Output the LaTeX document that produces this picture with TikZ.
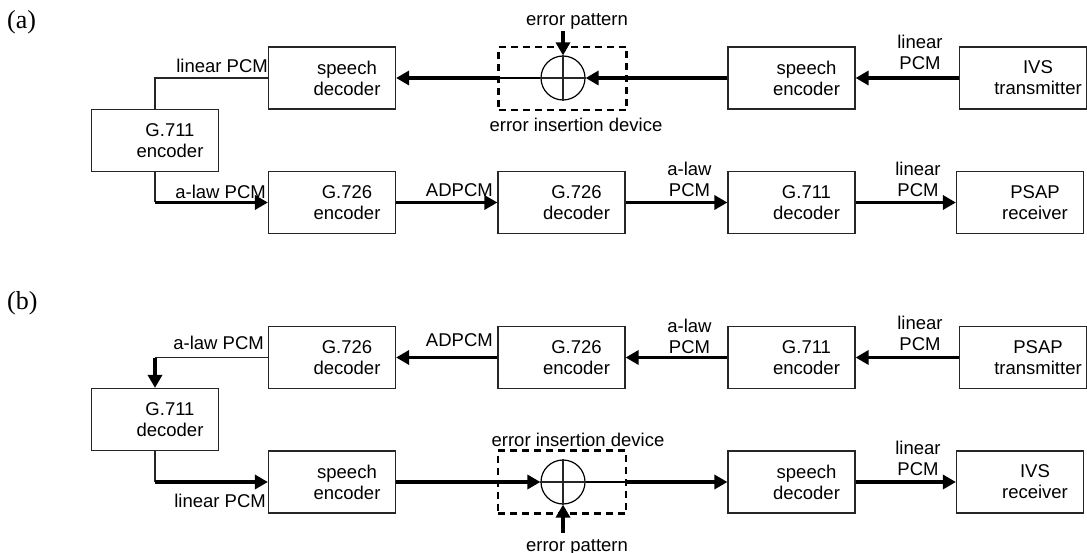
\documentclass[tikz,border=0pt]{standalone}
\usepackage{fontspec}
\setmainfont{Liberation Sans}
\newfontfamily\capfont{Liberation Serif}
\usepackage{tikz}
\usetikzlibrary{arrows.meta, positioning, calc}

\tikzset{
  block/.style={draw=black!85, line width=1.2pt, minimum width=127pt, minimum height=62pt, inner sep=0pt},
  intext/.style={xshift=15pt, align=center, inner sep=0pt, font=\fontsize{18.5}{21}\selectfont},
  tag/.style={inner sep=1pt, align=center, font=\fontsize{18.5}{21}\selectfont},
  panel/.style={inner sep=0pt, font=\capfont\fontsize{26}{28}\selectfont},
  wire/.style={line width=1.2pt, draw=black!85},
  flow/.style={line width=3.5pt, -{Triangle[length=13pt, width=14pt]}},
  inflow/.style={line width=2.5pt},
  errbox/.style={draw, line width=2.5pt, dash pattern=on 7pt off 5pt, minimum width=128pt, minimum height=63pt, inner sep=0pt},
  adder/.style={draw, circle, line width=1.2pt, minimum size=44pt, inner sep=0pt}
}

\begin{document}
\begin{tikzpicture}[x=1pt, y=-1pt]
    \useasboundingbox (0,0) rectangle (1087,553);

    % (a) IVS to PSAP
    \node[panel, anchor=base west] (capA) at (7,29) {(a)};
    \node[block, label={[intext]center:{speech\\decoder}}] (sdecA) at (332,78) {};
    \node[errbox] (errA) at (562.5,78.5) {};
    \node[adder] (circA) at (563,78) {};
    \node[block, label={[intext]center:{speech\\encoder}}] (sencA) at (791.5,78) {};
    \node[block, label={[intext]center:{IVS\\transmitter}}] (ivsTx) at (1023,78) {};
    \node[block, label={[intext]center:{G.711\\encoder}}] (g711encA) at (155,140.5) {};
    \node[block, label={[intext]center:{G.726\\encoder}}] (g726encA) at (332,202.5) {};
    \node[block, label={[intext]center:{G.726\\decoder}}] (g726decA) at (561.5,202.5) {};
    \node[block, label={[intext]center:{G.711\\decoder}}] (g711decA) at (791.5,202.5) {};
    \node[block, label={[intext]center:{PSAP\\receiver}}] (psapRx) at (1020,202.5) {};

    \draw[wire] (circA.north) -- (circA.south) (circA.west) -- (circA.east);
    \draw[flow] (ivsTx) -- (sencA);
    \draw[flow] (sencA) -- (circA);
    \draw[inflow] (circA.west) -- (errA.west |- circA.west);
    \draw[flow] (errA.west |- circA.west) -- (sdecA);
    \draw[wire] (sdecA.west) -| (g711encA.north);
    \draw[wire] (g711encA.south) -- (g711encA.south |- g726encA.west);
    \draw[flow] (g711encA.south |- g726encA.west) -- (g726encA.west);
    \draw[flow] (g726encA) -- (g726decA);
    \draw[flow] (g726decA) -- (g711decA);
    \draw[flow] (g711decA) -- (psapRx);
    \coordinate (epA) at (563,31);
    \draw[flow] (epA) -- (circA.north);

    \node[tag, anchor=base east] (lbA1) at (269,73) {linear PCM};
    \node[tag, anchor=base east] (lbA2) at (267,199) {a-law PCM};
    \node[tag, anchor=base east] (lbA3) at (494,197) {ADPCM};
    \node[tag, anchor=south] (lbA4) at (689.5,198) {a-law\\PCM};
    \node[tag, anchor=south] (lbA5) at (918,198) {linear\\PCM};
    \node[tag, anchor=south] (lbA6) at (920,71) {linear\\PCM};
    \node[tag, anchor=base] (errpatA) at (577,26) {error pattern};
    \node[tag, anchor=base] (errdevA) at (576,132) {error insertion device};

    % (b) PSAP to IVS
    \node[panel, anchor=base west] (capB) at (7,309) {(b)};
    \node[block, label={[intext]center:{G.726\\decoder}}] (g726decB) at (332,357.5) {};
    \node[block, label={[intext]center:{G.726\\encoder}}] (g726encB) at (561.5,357.5) {};
    \node[block, label={[intext]center:{G.711\\encoder}}] (g711encB) at (791.5,357.5) {};
    \node[block, label={[intext]center:{PSAP\\transmitter}}] (psapTx) at (1023,357.5) {};
    \node[block, label={[intext]center:{G.711\\decoder}}] (g711decB) at (155,419.5) {};
    \node[block, label={[intext]center:{speech\\encoder}}] (sencB) at (332,482) {};
    \node[errbox] (errB) at (562,482) {};
    \node[adder] (circB) at (563,482) {};
    \node[block, label={[intext]center:{speech\\decoder}}] (sdecB) at (791.5,482) {};
    \node[block, label={[intext]center:{IVS\\receiver}}] (ivsRx) at (1020,482) {};

    \draw[wire] (circB.north) -- (circB.south) (circB.west) -- (circB.east);
    \draw[flow] (psapTx) -- (g711encB);
    \draw[flow] (g711encB) -- (g726encB);
    \draw[flow] (g726encB) -- (g726decB);
    \draw[wire] (g726decB.west) -- (g711decB.north |- g726decB.west);
    \draw[flow] (g711decB.north |- g726decB.west) -- (g711decB.north);
    \draw[wire] (g711decB.south) -- (g711decB.south |- sencB.west);
    \draw[flow] (g711decB.south |- sencB.west) -- (sencB.west);
    \draw[flow] (sencB) -- (circB);
    \draw[inflow] (circB.east) -- (errB.east |- circB.east);
    \draw[flow] (errB.east |- circB.east) -- (sdecB);
    \draw[flow] (sdecB) -- (ivsRx);
    \coordinate (epB) at (563,533);
    \draw[flow] (epB) -- (circB.south);

    \node[tag, anchor=south] (lbB1) at (920,352) {linear\\PCM};
    \node[tag, anchor=south] (lbB2) at (689.5,355) {a-law\\PCM};
    \node[tag, anchor=base east] (lbB3) at (494,346) {ADPCM};
    \node[tag, anchor=base east] (lbB4) at (265,349) {a-law PCM};
    \node[tag, anchor=base east] (lbB5) at (267,507) {linear PCM};
    \node[tag, anchor=south] (lbB6) at (918,477) {linear\\PCM};
    \node[tag, anchor=base] (errdevB) at (578,446) {error insertion device};
    \node[tag, anchor=base] (errpatB) at (577,551) {error pattern};
\end{tikzpicture}
\end{document}
